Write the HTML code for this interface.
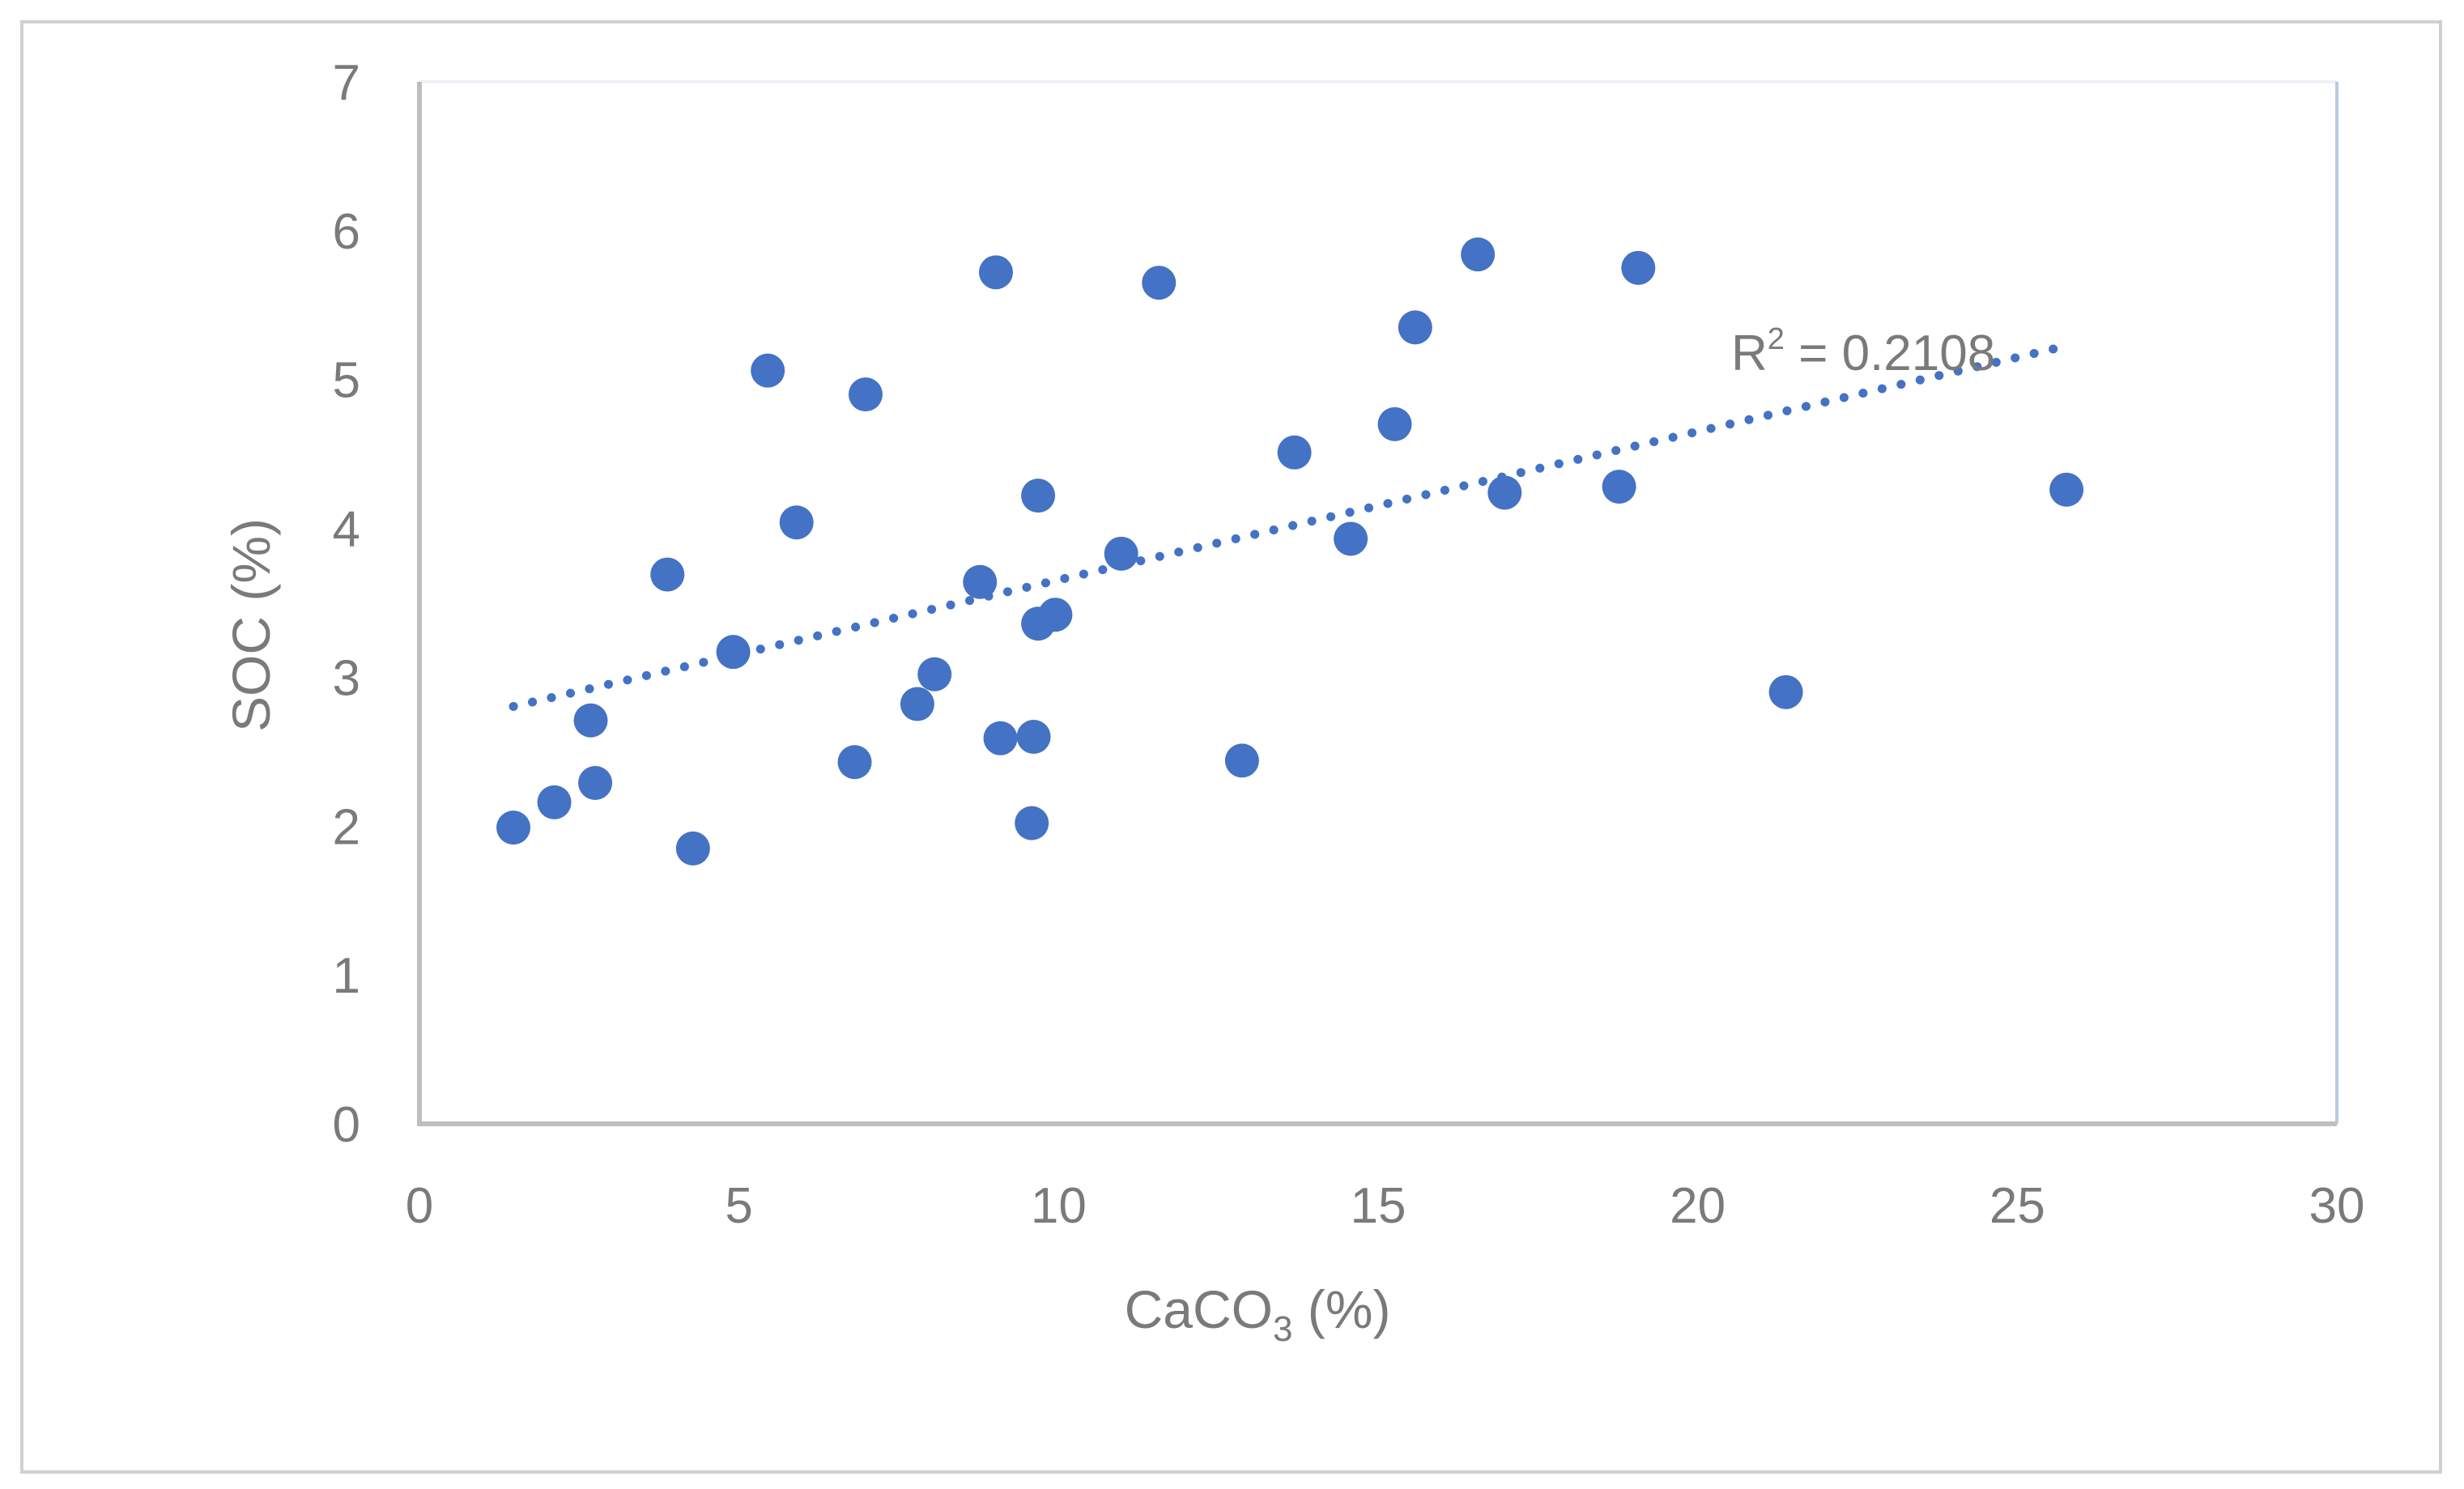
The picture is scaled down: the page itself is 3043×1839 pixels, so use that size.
<!DOCTYPE html>
<html><head><meta charset="utf-8"><style>
html,body{margin:0;padding:0;background:#fff;}
svg{display:block;}
text{font-family:"Liberation Sans",sans-serif;fill:#7a7a7a;}
</style></head><body>
<svg id="chart" width="3043" height="1839" viewBox="0 0 3043 1839" xmlns="http://www.w3.org/2000/svg">
<rect x="27" y="27" width="2987" height="1791" fill="#fff" stroke="#d0d0d0" stroke-width="4"/>
<g id="plot"></g>
</svg>
<script>
const xValues=[1.47,2.11,2.68,2.75,3.88,4.28,4.91,5.45,5.90,6.81,6.98,7.79,8.06,8.77,9.02,9.09,9.58,9.61,9.68,9.68,9.95,10.98,11.57,12.87,13.69,14.57,15.26,15.58,16.56,16.98,18.77,19.07,21.38,25.77];
const yValues=[1.99,2.16,2.71,2.29,3.69,1.85,3.17,5.06,4.04,2.43,4.90,2.82,3.02,3.64,5.72,2.59,2.02,2.60,4.22,3.36,3.42,3.83,5.65,2.44,4.51,3.93,4.70,5.35,5.84,4.24,4.28,5.75,2.90,4.26];
const xTicks=[0,5,10,15,20,25,30];
const yTicks=[0,1,2,3,4,5,6,7];
const r2Label="0.2108";

const L=518,R=2886,T=101,B=1388;
const X=v=>L+(v-0)/30*(R-L);
const Y=v=>B-(v-0)/7*(B-T);
const NS="http://www.w3.org/2000/svg";
const g=document.getElementById('plot');
function mk(tag,attrs,parent){const e=document.createElementNS(NS,tag);for(const k in attrs)e.setAttribute(k,attrs[k]);(parent||g).appendChild(e);return e;}

// plot area frame (faint top/right)
let e=mk('line',{x1:L,y1:T,x2:R,y2:T,stroke:'#eef2f8','stroke-width':4});


e=mk('line',{x1:R,y1:T,x2:R,y2:B,stroke:'#b8cbe4','stroke-width':4});


// axes
e=mk('line',{x1:L,y1:T,x2:L,y2:B+3,stroke:'#bfbfbf','stroke-width':6});


e=mk('line',{x1:L-3,y1:B,x2:R,y2:B,stroke:'#bfbfbf','stroke-width':6});



yTicks.forEach(t=>{
  const tx=mk('text',{x:445,y:Y(t)+22,'text-anchor':'end','font-size':62});
  tx.textContent=t;
  
  
});
xTicks.forEach(t=>{
  const tx=mk('text',{x:X(t),y:1510,'text-anchor':'middle','font-size':62});
  tx.textContent=t;
  
  
});

// trendline (least squares)
const n=xValues.length;
const mx=xValues.reduce((a,b)=>a+b,0)/n, my=yValues.reduce((a,b)=>a+b,0)/n;
let sxy=0,sxx=0;for(let i=0;i<n;i++){sxy+=(xValues[i]-mx)*(yValues[i]-my);sxx+=(xValues[i]-mx)**2;}
const slope=sxy/sxx, icpt=my-slope*mx;
const x0=Math.min(...xValues), x1=Math.max(...xValues);
e=mk('line',{x1:X(x0),y1:Y(icpt+slope*x0),x2:X(x1),y2:Y(icpt+slope*x1),stroke:'#4472c4','stroke-width':11,'stroke-linecap':'round','stroke-dasharray':'0.1 24'});



xValues.forEach((xv,i)=>{
  const c=mk('circle',{cx:X(xv),cy:Y(yValues[i]),r:21,fill:'#4472c4'});
  
  
});

const r2=mk('text',{x:2138,y:457,'font-size':62});
r2.innerHTML='R<tspan font-size="38" dy="-26">2</tspan><tspan dy="26"> = '+r2Label+'</tspan>';



const xt=mk('text',{x:1553,y:1640,'text-anchor':'middle','font-size':66});
xt.innerHTML='CaCO<tspan font-size="44" dy="16">3</tspan><tspan dy="-16"> (%)</tspan>';



const yt=mk('text',{x:0,y:0,'text-anchor':'middle','font-size':66,transform:'translate(333,772) rotate(-90)'});
yt.textContent='SOC (%)';


</script>
</body></html>
